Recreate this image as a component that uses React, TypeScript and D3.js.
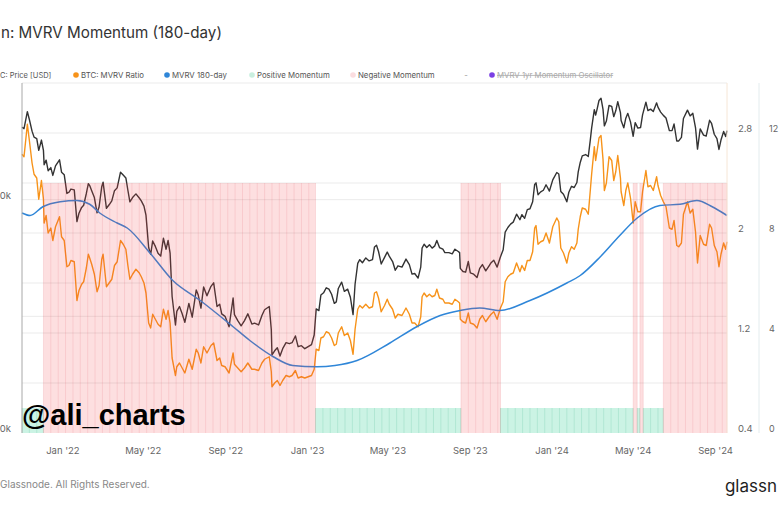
import React from 'react';
import * as d3 from 'd3';

const W = 780;
const H = 507;

// ---- Data ----
const dates = [
  '2021-11-01','2021-11-04','2021-11-09','2021-11-12','2021-11-16','2021-11-19','2021-11-23','2021-11-26','2021-11-30',
  '2021-12-03','2021-12-04','2021-12-07','2021-12-10','2021-12-14','2021-12-17','2021-12-21','2021-12-27','2021-12-30',
  '2022-01-03','2022-01-07','2022-01-10','2022-01-13','2022-01-18','2022-01-22','2022-01-25','2022-01-29',
  '2022-02-01','2022-02-05','2022-02-08','2022-02-10','2022-02-13','2022-02-17','2022-02-21','2022-02-24','2022-02-28',
  '2022-03-02','2022-03-07','2022-03-11','2022-03-15','2022-03-19','2022-03-23','2022-03-28',
  '2022-04-01','2022-04-05','2022-04-08','2022-04-11','2022-04-15','2022-04-20','2022-04-25','2022-04-28',
  '2022-05-02','2022-05-05','2022-05-09','2022-05-12','2022-05-15','2022-05-19','2022-05-23','2022-05-27','2022-05-31',
  '2022-06-04','2022-06-07','2022-06-10','2022-06-13','2022-06-18','2022-06-20','2022-06-24','2022-06-28',
  '2022-07-02','2022-07-08','2022-07-13','2022-07-19','2022-07-22','2022-07-26','2022-07-30',
  '2022-08-04','2022-08-10','2022-08-14','2022-08-19','2022-08-23','2022-08-26','2022-08-31',
  '2022-09-06','2022-09-12','2022-09-14','2022-09-19','2022-09-24','2022-09-29',
  '2022-10-04','2022-10-10','2022-10-14','2022-10-20','2022-10-25','2022-10-29',
  '2022-11-05','2022-11-08','2022-11-09','2022-11-13','2022-11-17','2022-11-21','2022-11-25','2022-11-30',
  '2022-12-05','2022-12-09','2022-12-14','2022-12-18','2022-12-23','2022-12-28',
  '2023-01-02','2023-01-07','2023-01-11','2023-01-14','2023-01-18','2023-01-21','2023-01-25','2023-01-29',
  '2023-02-02','2023-02-06','2023-02-10','2023-02-13','2023-02-16','2023-02-21','2023-02-25',
  '2023-03-02','2023-03-06','2023-03-10','2023-03-13','2023-03-17','2023-03-20','2023-03-24','2023-03-29',
  '2023-04-03','2023-04-08','2023-04-11','2023-04-14','2023-04-17','2023-04-21','2023-04-26','2023-04-30',
  '2023-05-03','2023-05-08','2023-05-12','2023-05-16','2023-05-22','2023-05-28',
  '2023-06-02','2023-06-06','2023-06-10','2023-06-15','2023-06-19','2023-06-21','2023-06-24','2023-06-28',
  '2023-07-02','2023-07-06','2023-07-10','2023-07-13','2023-07-17','2023-07-22','2023-07-25','2023-07-31',
  '2023-08-05','2023-08-09','2023-08-14','2023-08-16','2023-08-17','2023-08-21','2023-08-25','2023-08-29',
  '2023-09-01','2023-09-06','2023-09-11','2023-09-15','2023-09-19','2023-09-24','2023-09-29',
  '2023-10-02','2023-10-06','2023-10-11','2023-10-16','2023-10-20','2023-10-23','2023-10-27','2023-10-31',
  '2023-11-04','2023-11-09','2023-11-14','2023-11-17','2023-11-21','2023-11-25','2023-11-29',
  '2023-12-03','2023-12-06','2023-12-08','2023-12-11','2023-12-15','2023-12-19','2023-12-23','2023-12-28',
  '2024-01-02','2024-01-08','2024-01-11','2024-01-14','2024-01-18','2024-01-23','2024-01-26','2024-01-30',
  '2024-02-03','2024-02-07','2024-02-09','2024-02-12','2024-02-15','2024-02-20','2024-02-24','2024-02-27','2024-02-29',
  '2024-03-04','2024-03-06','2024-03-08','2024-03-11','2024-03-14','2024-03-17','2024-03-19','2024-03-22','2024-03-26','2024-03-30',
  '2024-04-02','2024-04-05','2024-04-08','2024-04-12','2024-04-13','2024-04-17','2024-04-20','2024-04-23','2024-04-27',
  '2024-05-01','2024-05-04','2024-05-08','2024-05-12','2024-05-15','2024-05-20','2024-05-23','2024-05-27','2024-05-31',
  '2024-06-05','2024-06-07','2024-06-11','2024-06-15','2024-06-19','2024-06-24','2024-06-28',
  '2024-07-01','2024-07-05','2024-07-08','2024-07-12','2024-07-15','2024-07-21','2024-07-25','2024-07-29',
  '2024-08-02','2024-08-05','2024-08-09','2024-08-14','2024-08-18','2024-08-23','2024-08-26','2024-08-30',
  '2024-09-03','2024-09-06','2024-09-09','2024-09-13','2024-09-16','2024-09-18',
];

// BTC price, thousands of USD
const priceK = [
  61.5,61.0,67.5,64.4,60.1,58.0,57.5,53.6,57.0,
  53.6,49.2,50.6,47.5,48.4,46.2,48.9,50.7,47.1,
  46.4,41.5,41.8,42.6,42.4,35.1,36.9,38.2,
  38.7,41.5,44.0,43.5,42.2,40.5,37.0,38.3,43.2,
  44.4,38.0,38.8,39.7,42.2,42.9,47.1,
  46.3,45.5,42.3,39.5,40.5,41.4,40.4,39.7,
  38.5,36.5,30.1,28.9,31.3,30.3,29.1,28.6,31.8,
  29.8,31.4,29.1,22.5,19.0,20.6,21.2,20.3,
  19.3,21.6,19.9,23.4,22.7,21.0,23.8,
  22.6,23.9,24.4,21.2,21.5,20.3,20.0,
  18.8,22.3,20.2,19.5,18.9,19.5,
  20.3,19.1,19.2,19.0,20.1,20.8,
  21.2,18.5,15.9,16.3,16.6,15.8,16.5,17.1,
  17.0,17.1,17.8,16.7,16.8,16.5,
  16.7,16.9,17.9,20.9,20.7,22.7,23.0,23.7,
  23.5,22.8,21.6,21.8,23.6,24.5,23.2,
  23.5,22.4,20.2,24.2,27.4,28.0,27.5,28.3,
  27.8,28.0,30.2,30.5,29.4,27.3,28.4,29.3,
  28.6,27.7,26.3,27.0,26.8,28.1,
  27.2,25.7,25.8,25.1,26.8,30.0,30.7,30.1,
  30.6,30.0,30.4,31.4,30.1,29.8,29.2,29.2,
  29.0,29.8,29.4,29.2,26.6,26.1,26.0,27.7,
  25.9,25.7,25.2,26.6,27.2,26.2,27.0,
  27.5,27.9,26.8,28.5,29.7,33.0,33.9,34.6,
  35.0,36.7,35.5,36.6,35.8,37.7,37.9,
  39.5,43.8,44.2,41.2,41.9,42.3,43.7,42.1,
  45.0,47.0,46.6,42.0,41.3,39.5,41.8,43.3,
  43.0,44.3,47.2,49.9,51.9,52.3,51.7,57.0,61.2,
  68.3,66.1,68.3,72.1,73.1,68.4,62.0,63.8,70.0,69.6,
  65.5,67.8,71.6,67.1,64.0,61.3,64.9,66.8,63.5,
  58.3,63.2,61.2,61.4,66.2,71.4,67.9,68.5,67.5,
  71.1,69.3,67.3,66.0,65.0,60.3,60.3,
  62.7,56.7,56.7,57.9,64.8,68.1,65.8,66.8,
  61.4,54.0,60.9,58.7,58.4,64.1,62.9,59.0,
  57.5,53.9,57.0,60.0,58.2,60.3,
];

// BTC: MVRV Ratio
const mvrv = [
  2.63,2.61,2.87,2.74,2.56,2.47,2.44,2.27,2.42,
  2.27,2.08,2.14,2.00,2.04,1.94,2.05,2.13,1.97,
  1.94,1.73,1.74,1.78,1.77,1.46,1.54,1.59,
  1.61,1.72,1.83,1.80,1.75,1.67,1.53,1.58,1.79,
  1.83,1.57,1.60,1.63,1.74,1.77,1.94,
  1.91,1.87,1.74,1.63,1.67,1.71,1.68,1.65,
  1.60,1.52,1.28,1.24,1.35,1.31,1.27,1.25,1.39,
  1.31,1.38,1.28,1.00,0.86,0.93,0.96,0.92,
  0.88,0.99,0.91,1.07,1.04,0.96,1.09,
  1.04,1.10,1.12,0.98,1.00,0.94,0.93,
  0.88,1.04,0.95,0.92,0.89,0.92,
  0.96,0.91,0.91,0.90,0.96,0.99,
  1.01,0.89,0.77,0.80,0.82,0.78,0.82,0.86,
  0.85,0.86,0.90,0.84,0.85,0.84,
  0.85,0.86,0.91,1.07,1.06,1.16,1.17,1.21,
  1.20,1.16,1.10,1.11,1.20,1.25,1.18,
  1.20,1.14,1.03,1.23,1.39,1.42,1.40,1.43,
  1.40,1.41,1.52,1.53,1.48,1.37,1.42,1.47,
  1.43,1.39,1.32,1.35,1.34,1.40,
  1.35,1.28,1.28,1.25,1.33,1.49,1.52,1.49,
  1.51,1.49,1.50,1.55,1.48,1.47,1.44,1.44,
  1.43,1.47,1.45,1.44,1.31,1.29,1.28,1.36,
  1.28,1.27,1.24,1.31,1.34,1.29,1.33,
  1.35,1.37,1.31,1.40,1.45,1.61,1.65,1.67,
  1.68,1.76,1.69,1.74,1.70,1.78,1.78,
  1.85,2.04,2.06,1.91,1.93,1.94,2.00,1.92,
  2.05,2.12,2.09,1.88,1.84,1.76,1.84,1.89,
  1.87,1.92,2.03,2.13,2.20,2.19,2.15,2.34,2.47,
  2.69,2.58,2.65,2.76,2.78,2.59,2.34,2.40,2.61,2.58,
  2.42,2.49,2.62,2.44,2.33,2.22,2.34,2.40,2.28,
  2.08,2.25,2.17,2.17,2.33,2.50,2.37,2.38,2.34,
  2.45,2.38,2.30,2.25,2.21,2.04,2.03,
  2.10,1.90,1.89,1.92,2.15,2.25,2.16,2.19,
  2.01,1.76,1.98,1.91,1.90,2.07,2.04,1.90,
  1.85,1.73,1.83,1.92,1.87,1.93,
];

// MVRV 180-day
const maDates = [
  '2021-11-01','2021-11-13','2021-12-02','2021-12-28','2022-01-22','2022-02-10','2022-02-25','2022-03-23',
  '2022-04-07','2022-05-11','2022-06-14','2022-07-25','2022-09-12','2022-10-07','2022-11-11','2022-12-10',
  '2023-01-15','2023-02-11','2023-03-16','2023-05-04','2023-06-13','2023-07-18','2023-08-17','2023-09-15',
  '2023-10-15','2023-11-29','2024-01-23','2024-02-12','2024-03-13','2024-04-11','2024-05-07','2024-06-10',
  '2024-07-10','2024-08-04','2024-08-27','2024-09-18',
];
const maValues = [
  2.16,2.14,2.21,2.25,2.26,2.23,2.16,2.08,
  2.04,1.84,1.62,1.46,1.25,1.14,1.01,0.94,
  0.93,0.94,0.98,1.12,1.25,1.34,1.38,1.40,
  1.38,1.46,1.60,1.66,1.81,1.98,2.12,2.22,
  2.23,2.26,2.21,2.14,
];

// Momentum regimes
const momentumStarts = ['2021-11-01','2021-12-03','2023-01-13','2023-08-18','2023-10-16','2024-05-01','2024-05-07','2024-05-11','2024-05-16','2024-06-15'];
const momentumEnds   = ['2021-12-03','2023-01-13','2023-08-18','2023-10-16','2024-05-01','2024-05-07','2024-05-11','2024-05-16','2024-06-15','2024-09-18'];
const momentumStates = ['positive','negative','positive','negative','positive','negative','positive','negative','positive','negative'];
const NEG_LEVEL = 10; // on oscillator axis
const POS_LEVEL = 1;

const xTickDates = ['2022-01-01','2022-05-01','2022-09-01','2023-01-01','2023-05-01','2023-09-01','2024-01-01','2024-05-01','2024-09-01'];
const xTickLabels = ["Jan '22","May '22","Sep '22","Jan '23","May '23","Sep '23","Jan '24","May '24","Sep '24"];
const mvrvTicks = [0.4, 1.2, 2, 2.8];
const mvrvGrid = [0.8, 1.2, 1.6, 2.0, 2.4, 2.8];
const oscTicks = [0, 4, 8, 12];
const priceTicks = [10000, 40000];
const priceTickLabels = ['0k', '0k']; // visible part of the cropped "10k" / "40k" labels
const priceGrid = [20000, 40000, 80000];

const legendLabels = ['C: Price [USD]', 'BTC: MVRV Ratio', 'MVRV 180-day', 'Positive Momentum', 'Negative Momentum'];
const legendColors = ['#333333', '#f7931a', '#2f86d8', '#c9efdf', '#fbdde0'];

const FONT = "Inter, 'Noto Sans', Arial, sans-serif";
const parse = (s: string) => new Date(s + 'T00:00:00Z');

export default function App() {
  const left = 22, right = 727, top = 83, bottom = 433;
  const x = d3.scaleUtc().domain([parse('2021-11-01'), parse('2024-09-18')]).range([left, right]);
  const yPrice = d3.scaleLog().domain([10000, 80000]).range([bottom, top]);
  const yMvrv = d3.scaleLinear().domain([0.4, 3.2]).range([bottom, top]);
  const yOsc = d3.scaleLinear().domain([0, 14]).range([bottom, top]);

  const pts = dates.map((d, i) => ({ d: parse(d), p: priceK[i] * 1000, m: mvrv[i] }));
  const pricePath = d3.line<any>().x(p => x(p.d)).y(p => yPrice(p.p))(pts) || '';
  const mvrvPath = d3.line<any>().x(p => x(p.d)).y(p => yMvrv(p.m))(pts) || '';
  const maPts = maDates.map((d, i) => ({ d: parse(d), v: maValues[i] }));
  const maPath = d3.line<any>().curve(d3.curveMonotoneX).x(p => x(p.d)).y(p => yMvrv(p.v))(maPts) || '';

  const bands = momentumStarts.map((s, i) => {
    const d0 = parse(s), d1 = parse(momentumEnds[i]);
    const neg = momentumStates[i] === 'negative';
    const level = neg ? NEG_LEVEL : POS_LEVEL;
    const stripes: number[] = [];
    for (let d = d0; d < d1; d = d3.utcDay.offset(d, 11)) stripes.push(x(d));
    stripes.push(x(d1));
    return { x0: x(d0), x1: x(d1), y0: yOsc(level), neg, stripes };
  });

  const legendX = [0, 81, 172, 257, 358];

  return (
    <svg width={W} height={H} style={{ position: 'absolute', left: 0, top: 0, background: '#fff' }} fontFamily={FONT}>
      <rect x={0} y={0} width={W} height={H} fill="#ffffff" />
      {/* Title */}
      <text x={1} y={38} fontSize={15.2} fill="#333">n: MVRV Momentum (180-day)</text>

      {/* Legend */}
      {legendLabels.map((lab, i) => (
        i === 0 ? (
          <text key={i} x={legendX[0]} y={78} fontSize={7.5} fill="#555">{lab}</text>
        ) : (
          <g key={i}>
            <circle cx={legendX[i] - 5} cy={75} r={2.8} fill={legendColors[i]} />
            <text x={legendX[i]} y={78} fontSize={7.8} fill="#555">{lab}</text>
          </g>
        )
      ))}
      <text x={466} y={78} fontSize={7.8} fill="#999" textAnchor="middle">-</text>
      <circle cx={492} cy={75} r={2.8} fill="#7b3fe4" />
      <text x={497} y={78} fontSize={7.8} fill="#aaa" textDecoration="line-through">MVRV 1yr Momentum Oscillator</text>

      {/* Grid */}
      {mvrvGrid.map(v => (
        <line key={'g' + v} x1={left} x2={right} y1={yMvrv(v)} y2={yMvrv(v)} stroke="#ebebeb" strokeWidth={1} />
      ))}
      {priceGrid.map(v => (
        <line key={'pg' + v} x1={left} x2={right} y1={yPrice(v)} y2={yPrice(v)} stroke="#ebebeb" strokeWidth={1} />
      ))}

      {/* Series */}
      <path d={pricePath} fill="none" stroke="#333333" strokeWidth={1.4} strokeLinejoin="round" />
      <path d={mvrvPath} fill="none" stroke="#f7931a" strokeWidth={1.4} strokeLinejoin="round" />
      <path d={maPath} fill="none" stroke="#2f86d8" strokeWidth={1.5} />

      {/* Momentum bands (drawn on top, translucent) */}
      {bands.map((b, i) => (
        <g key={'b' + i}>
          <rect x={b.x0} y={b.y0} width={Math.max(0, b.x1 - b.x0)} height={bottom - b.y0}
            fill={b.neg ? 'rgba(244,67,70,0.17)' : 'rgba(20,200,130,0.22)'} />
          {b.stripes.map((sx, j) => (
            <line key={j} x1={sx} x2={sx} y1={b.y0} y2={bottom}
              stroke={b.neg ? 'rgba(220,60,70,0.12)' : 'rgba(20,160,110,0.14)'} strokeWidth={1} />
          ))}
        </g>
      ))}

      {/* Axis lines */}
      <line x1={left} x2={left} y1={top} y2={bottom} stroke="#a8a8a8" strokeWidth={1} />
      <line x1={right} x2={right} y1={top} y2={bottom} stroke="#f6e6d6" strokeWidth={1} />
      <line x1={759} x2={759} y1={top} y2={bottom} stroke="#e3ecee" strokeWidth={1} />

      {/* Left price axis labels (cropped at page edge) */}
      {priceTicks.map((v, i) => (
        <text key={'pl' + v} x={11} y={yPrice(v) - 1} textAnchor="end" fontSize={9.5} fill="#666">{priceTickLabels[i]}</text>
      ))}
      {/* Right MVRV axis labels */}
      {mvrvTicks.map(v => (
        <text key={'ml' + v} x={738} y={yMvrv(v) - 1.5} fontSize={9.5} fill="#666">{String(v)}</text>
      ))}
      {/* Oscillator axis labels */}
      {oscTicks.map(v => (
        <text key={'ol' + v} x={769} y={yOsc(v) - 1.5} fontSize={9} fill="#666">{String(v)}</text>
      ))}
      {/* X axis labels */}
      {xTickDates.map((d, i) => (
        <text key={'x' + i} x={x(parse(d))} y={454} textAnchor="middle" fontSize={9.5} fill="#666">{xTickLabels[i]}</text>
      ))}

      {/* Watermark */}
      <text x={22} y={425} fontSize={29} fontWeight={700} fill="#000" fontFamily="'Liberation Sans', Arial, sans-serif">@ali_charts</text>

      {/* Footer */}
      <text x={0} y={488} fontSize={10} fill="#888">Glassnode. All Rights Reserved.</text>
      <text x={777} y={492} fontSize={17} textAnchor="end" fill="#1f1f1f">glassn</text>
    </svg>
  );
}
